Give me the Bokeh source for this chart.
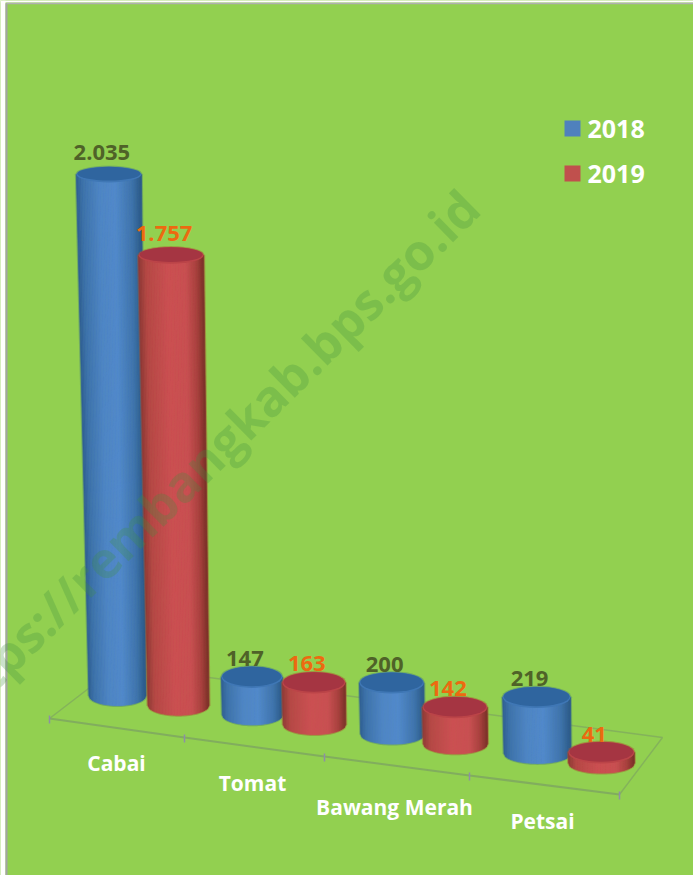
import math
from bokeh.plotting import figure
from bokeh.models import Range1d
from bokeh.core.properties import value
from bokeh.embed import file_html
from bokeh.resources import INLINE

# ---- data ----
categories = ["Cabai", "Tomat", "Bawang Merah", "Petsai"]
series_names = ["2018", "2019"]
values_2018 = [2035, 147, 200, 219]
values_2019 = [1757, 163, 142, 41]
watermark = "https://rembangkab.bps.go.id"

# ---- styling ----
BG = "#92d050"
FONT = value("Open Sans")
BLUE_STOPS = [(-1, "#2f5f92"), (-.8, "#3d72ab"), (-.3, "#4e85c5"), (.2, "#5189cb"), (.7, "#3f74ae"), (1, "#2b5a88")]
RED_STOPS = [(-1, "#8f3a35"), (-.75, "#b64846"), (-.1, "#cb4f52"), (.45, "#c94f52"), (.8, "#a63f3d"), (1, "#7a3028")]
TOP_COL = ["#2f659f", "#a53542"]
RIM_COL = ["#3f77b5", "#bb4448"]
HALO = ["#4a7f7a", "#a8552f"]
LEG_COL = ["#4f81bd", "#c0504d"]
LAB_COL = ["#4f6228", "#ec6a10"]


def hex2rgb(h):
    return [int(h[i:i + 2], 16) for i in (1, 3, 5)]


def shade(stops, u):
    for (a, ca), (b, cb) in zip(stops, stops[1:]):
        if u <= b:
            f = (u - a) / (b - a)
            return "#%02x%02x%02x" % tuple(round(x + (y - x) * f) for x, y in zip(hex2rgb(ca), hex2rgb(cb)))
    return stops[-1][1]


# scene projection: category position t along the floor -> reference pixels
def floor_x(t):
    return 132.5 * t + 2.5 * t * t


def floor_y(t):
    return 19.0 * t


K = 0.256  # scene pixels per unit


def geometry(i, s, v):
    h = K * v
    cx = 117 + floor_x(i) + s * (61 + i)
    cy = 695 + 19.3 * i + s * 9.7
    w = (57 + 3.3 * i) if s == 0 else (61 + 1.6 * i)
    taper = 0.0154 if s == 0 else 0.009
    return dict(cx=cx, cy=cy, hw=w / 2, h=h, cxt=cx - 0.0165 * h, cyt=cy - h,
                hwt=(w + taper * h) / 2, ry=10.0, ryt=10.5 - 0.006 * h)


p = figure(width=693, height=875, output_backend="svg", toolbar_location=None,
           x_range=Range1d(0, 693), y_range=Range1d(875, 0),
           x_axis_type=None, y_axis_type=None, min_border=0,
           background_fill_color=BG, border_fill_color=BG, outline_line_color=None)
p.grid.visible = False

# white surround and frame of the picture
p.quad(left=[0], right=[5], bottom=[875], top=[0], fill_color="white", line_color=None)
p.quad(left=[0], right=[693], bottom=[2], top=[0], fill_color="white", line_color=None)
p.line([6, 6], [875, 3], line_color="#a3a3a3", line_width=2)
p.line([6, 693], [3, 3], line_color="#b0b0b0", line_width=1.5)

# floor of the 3D chart
FL = "#7fa85f"
n_ticks = len(categories) + 1
fx = [49 + floor_x(t) for t in range(n_ticks)]
fy = [718 + floor_y(t) for t in range(n_ticks)]
back = ((118, 665), (662, 737))
p.line(fx, fy, line_color=FL, line_width=2, line_alpha=.9)
p.line([fx[0], back[0][0], back[1][0], fx[-1]], [fy[0], back[0][1], back[1][1], fy[-1]],
       line_color=FL, line_width=1.4, line_alpha=.75)
for x, y in zip(fx, fy):
    p.line([x, x], [y - 3, y + 5], line_color="#8d8ea6", line_width=1.5)

# cylinders
N = 40
for i, cat in enumerate(categories):
    for s, vals in enumerate((values_2018, values_2019)):
        g = geometry(i, s, vals[i])
        stops = BLUE_STOPS if s == 0 else RED_STOPS
        xs, ys, cols = [], [], []
        for k in range(N):
            u0, u1 = -1 + 2 * k / N, -1 + 2 * (k + 1) / N
            xs.append([g["cx"] + g["hw"] * u0, g["cx"] + g["hw"] * u1, g["cxt"] + g["hwt"] * u1, g["cxt"] + g["hwt"] * u0])
            ys.append([g["cy"] + g["ry"] * math.sqrt(max(0, 1 - u0 * u0)), g["cy"] + g["ry"] * math.sqrt(max(0, 1 - u1 * u1)),
                       g["cyt"], g["cyt"]])
            cols.append(shade(stops, (u0 + u1) / 2))
        # soft halo round the silhouette
        arc = [-1 + 2 * k / 30 for k in range(31)]
        hx = [g["cx"] + (g["hw"] + 1.5) * u for u in arc] + [g["cxt"] + (g["hwt"] + 1.5) * u for u in arc[::-1]]
        hy = [g["cy"] + (g["ry"] + 1.5) * math.sqrt(1 - u * u) for u in arc] + \
             [g["cyt"] - (g["ryt"] + 1.5) * math.sqrt(1 - u * u) for u in arc[::-1]]
        p.patch(hx, hy, fill_color=HALO[s], fill_alpha=.45, line_color=None)
        p.patches(xs, ys, fill_color=cols, line_color=cols, line_width=.8)
        # rim and dark top face
        p.ellipse([g["cxt"]], [g["cyt"]], width=2 * g["hwt"], height=2 * g["ryt"] + 1,
                  fill_color=RIM_COL[s], line_color=None)
        p.ellipse([g["cxt"]], [g["cyt"] - .8], width=2 * g["hwt"] - 2, height=2 * g["ryt"] - 1,
                  fill_color=TOP_COL[s], line_color=None)

# data labels
for i, cat in enumerate(categories):
    for s, vals in enumerate((values_2018, values_2019)):
        g = geometry(i, s, vals[i])
        txt = f"{vals[i]:,}".replace(",", ".")
        p.text([g["cxt"] - 7], [g["cyt"] - g["ryt"] - 8 - .013 * g["h"]], text=[txt],
               text_color=LAB_COL[s], text_font=FONT, text_font_style="bold", text_font_size="22px",
               text_align="center", text_baseline="middle")

# category labels sit under the floor, shifted by the same projection
lab_y_offset = [44, 45, 50, 45]
for i, cat in enumerate(categories):
    p.text([116 + floor_x(i) + (0, 1, 3, 6)[i]], [718 + floor_y(i) + lab_y_offset[i]], text=[cat],
           text_color="white", text_font=FONT, text_font_style="bold", text_font_size="21px",
           text_align="center", text_baseline="middle")

# legend
for s, name in enumerate(series_names):
    y = 128 + 45 * s
    p.rect([572], [y], width=16, height=16, fill_color=LEG_COL[s], line_color=None)
    p.text([587], [y], text=[name], text_color="white", text_font=FONT, text_font_style="bold",
           text_font_size="25px", text_align="left", text_baseline="middle")

# watermark
p.text([470], [198], text=[watermark], angle=44.5, angle_units="deg", text_color="#3f8f3f", text_alpha=.27,
       text_font=FONT, text_font_style="bold", text_font_size="50px",
       text_align="right", text_baseline="middle")

open("out.html", "w").write(file_html(p, INLINE))
